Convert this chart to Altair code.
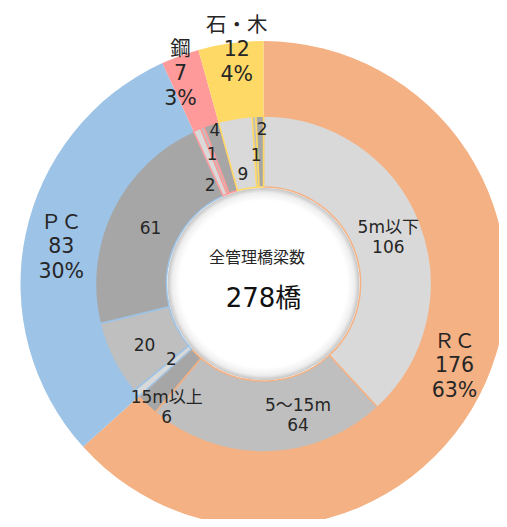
import math
import altair as alt
import pandas as pd

# ---- data ----
materials = ["ＲＣ", "ＰＣ", "鋼", "石・木"]
material_counts = [176, 83, 7, 12]
spans = ["5m以下", "5〜15m", "15m以上"]
rc_spans = [106, 64, 6]
pc_spans = [2, 20, 61]
steel_spans = [2, 1, 4]
stone_spans = [9, 1, 2]
center_title = "全管理橋梁数"
unit = "橋"

# ---- styles / layout ----
material_colors = ["#F4B183", "#9DC3E6", "#FF9A9A", "#FFD966"]
span_colors = ["#D9D9D9", "#BFBFBF", "#A6A6A6"]
font = "DejaVu Sans, Noto Sans CJK JP"
text_color = "#262626"
CX, CY = 255.5, 276.0
R_OUT, R_MID, R_IN = 243, 168, 97
outer_label_r = [207, 206, 228, 238]
outer_label_nudge = [-1.3, -0.7, -1.3, 1.3]  # degrees
inner_label_r = [134, 134, 155, 118, 133, 127, 114, 141, 163, 113, 131, 157]
inner_label_nudge = [0, -13.6, -5.4, 2.1, 0, 1.2, -4.6, 0, 0.8, -0.8, 0, 0.8]
OUT_LH, IN_LH = 24.5, 20
BASE_SHIFT = 2.5

total = sum(material_counts)
deg = total / 360.0

# outer ring table
rows = []
cum = 0
for i, (m, c) in enumerate(zip(materials, material_counts)):
    pct = round(100 * c / total)
    rows.append(dict(material=m, count=c, order=i,
                     text=f"{m}\n{c}\n{pct}%",
                     mid=cum + c / 2 + outer_label_nudge[i] * deg,
                     r=outer_label_r[i]))
    cum += c
outer = pd.DataFrame(rows)

# inner ring table
rows = []
cum = 0
k = 0
for m, vals in zip(materials, [rc_spans, pc_spans, steel_spans, stone_spans]):
    for s, v in zip(spans, vals):
        named = m == materials[0]
        txt = f"{s}\n{v}" if named else str(v)
        rows.append(dict(material=m, span=s, count=v, order=k, text=txt, named=named,
                         mid=cum + v / 2 + inner_label_nudge[k] * deg,
                         r=inner_label_r[k]))
        cum += v
        k += 1
inner = pd.DataFrame(rows)

theta_scale = alt.Scale(domain=[0, total], range=[0, 2 * math.pi])
xc = alt.value(CX)
yc = alt.value(CY)

outer_arc = alt.Chart(outer).mark_arc(radius=R_OUT, radius2=R_MID).encode(
    x=xc, y=yc,
    theta=alt.Theta("count:Q", stack=True, scale=theta_scale),
    order=alt.Order("order:Q"),
    color=alt.Color("material:N", scale=alt.Scale(domain=materials, range=material_colors), legend=None),
)

hole = alt.Chart(pd.DataFrame({"a": [0]})).mark_arc(
    radius=R_IN - 1, radius2=0,
    color=alt.RadialGradient(
        gradient="radial", x1=0.5, y1=0.5, r1=0, x2=0.5, y2=0.5, r2=0.5,
        stops=[alt.GradientStop(color="#ffffff", offset=0),
               alt.GradientStop(color="#ffffff", offset=0.87),
               alt.GradientStop(color="#eeeeee", offset=0.95),
               alt.GradientStop(color="#c4c4c4", offset=1.0)]),
).encode(x=xc, y=yc, theta=alt.value(0), theta2=alt.value(2 * math.pi))

inner_arc = alt.Chart(inner).mark_arc(radius=R_MID, radius2=R_IN, strokeWidth=1.5).encode(
    x=xc, y=yc,
    theta=alt.Theta("count:Q", stack=True, scale=theta_scale),
    order=alt.Order("order:Q"),
    fill=alt.Fill("span:N", scale=alt.Scale(domain=spans, range=span_colors), legend=None),
    stroke=alt.Stroke("material:N", scale=alt.Scale(domain=materials, range=material_colors), legend=None),
)


def label_layer(df, size, lh, nlines):
    return alt.Chart(df).mark_text(
        font=font, fontSize=size, lineHeight=lh, lineBreak="\n", color=text_color,
        align="center", baseline="middle", dy=-(nlines - 1) * lh / 2 + BASE_SHIFT,
    ).encode(
        x=xc, y=yc,
        theta=alt.Theta("mid:Q", stack=False, scale=theta_scale),
        radius=alt.Radius("r:Q", scale=None),
        text="text:N",
    )


outer_text = label_layer(outer, 20.5, OUT_LH, 3)
inner_text_named = label_layer(inner[inner["named"]], 17, IN_LH, 2)
inner_text_plain = label_layer(inner[~inner["named"]], 17, IN_LH, 1)

center_df = pd.DataFrame({"t": [center_title, f"{total}{unit}"]})
title_text = alt.Chart(center_df.iloc[[0]]).mark_text(
    font=font, fontSize=16, color=text_color, dx=-6.5, dy=-29 + BASE_SHIFT, baseline="middle"
).encode(x=xc, y=yc, text="t:N")
total_text = alt.Chart(center_df.iloc[[1]]).mark_text(
    font=font, fontSize=26, color="#111111", dy=12 + BASE_SHIFT, baseline="middle"
).encode(x=xc, y=yc, text="t:N")

chart = alt.layer(outer_arc, hole, inner_arc, outer_text, inner_text_named, inner_text_plain,
                  title_text, total_text).properties(
    width=491, height=511, padding=0, autosize=alt.AutoSizeParams(type="none"),
).resolve_scale(color="independent").configure_view(stroke=None)

chart.save("out.html", embed_options={"renderer": "svg", "actions": False})
